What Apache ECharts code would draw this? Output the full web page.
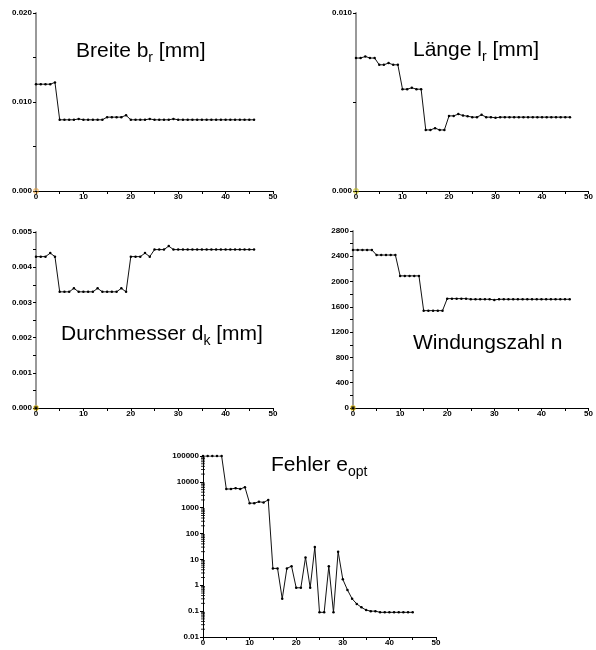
<!DOCTYPE html>
<html>
<head>
<meta charset="utf-8">
<script src="https://cdn.jsdelivr.net/npm/echarts@6/dist/echarts.min.js"></script>
<style>html,body{margin:0;padding:0;background:#fff}#c{width:596px;height:650px}</style>
</head>
<body>
<div id="c"></div>
<script>
// ---- data (iteration index = array index) ----
const breite = [0.0120,0.0120,0.0120,0.0120,0.0122, 0.0080,0.0080,0.0080,0.0080,0.0081,
  0.0080,0.0080,0.0080,0.0080,0.0080, 0.0083,0.0083,0.0083,0.0083,0.0085,
  0.0080,0.0080,0.0080,0.0080,0.0081, 0.0080,0.0080,0.0080,0.0080,0.0081,
  0.0080,0.0080,0.0080,0.0080,0.0080,0.0080,0.0080,0.0080,0.0080,0.0080,
  0.0080,0.0080,0.0080,0.0080,0.0080,0.0080,0.0080];
const laenge = [0.00747,0.00747,0.00756,0.00747,0.00747, 0.00709,0.00709,0.00719,0.00709,0.00709,
  0.00572,0.00572,0.00580,0.00572,0.00572, 0.00343,0.00343,0.00353,0.00343,0.00343,
  0.00422,0.00422,0.00432,0.00424,0.00420, 0.00415,0.00415,0.00428,0.00415,0.00415,
  0.00411, 0.00415,0.00415,0.00415,0.00415,0.00415,0.00415,0.00415,0.00415,
  0.00415,0.00415,0.00415,0.00415,0.00415,0.00415,0.00415,0.00415];
const durchmesser = [0.0043,0.0043,0.0043,0.0044,0.0043, 0.0033,0.0033,0.0033,0.0034,0.0033,
  0.0033,0.0033,0.0033,0.0034,0.0033, 0.0033,0.0033,0.0033,0.0034,0.0033,
  0.0043,0.0043,0.0043,0.0044,0.0043, 0.0045,0.0045,0.0045,0.0046,0.0045,
  0.0045,0.0045,0.0045,0.0045,0.0045,0.0045,0.0045,0.0045,0.0045,0.0045,
  0.0045,0.0045,0.0045,0.0045,0.0045,0.0045,0.0045];
const windungen = [2500,2500,2500,2500,2500, 2420,2420,2420,2420,2420,
  2090,2090,2090,2090,2090, 1540,1540,1540,1540,1540,
  1730,1730,1730,1730,1730, 1720,1720,1720,1720,1720,
  1710, 1720,1720,1720,1720,1720,1720,1720,1720,
  1720,1720,1720,1720,1720,1720,1720,1720];
const fehler = [100000,100000,100000,100000,100000, 5300,5300,5700,5300,6200,
  1500,1500,1700,1600,2000, 4.5,4.5,0.3,4.5,5.5,
  0.8,0.8,12,0.8,30, 0.09,0.09,5.5,0.09,20,
  1.7,0.66,0.3,0.19,0.14, 0.11,0.1,0.1,0.09,0.09,
  0.09,0.09,0.09,0.09,0.09,0.09];
const logDecades = [-2,-1,0,1,2,3,4,5];
const originMark = [0,0];

const FONT = "'Liberation Sans', Arial, sans-serif";
const chart = echarts.init(document.getElementById('c'), null, {renderer:'canvas'});

const grids = [
  {left:36, top:13, width:237, height:178},
  {left:356, top:13, width:238, height:178},
  {left:36, top:232, width:237, height:176},
  {left:353, top:231, width:241, height:177},
  {left:203, top:456, width:233, height:181}
];

function xAx(i){
  return {type:'value', gridIndex:i, min:0, max:50, interval:5,
    axisLine:{lineStyle:{color:'#000', width:1}},
    axisTick:{length:3, lineStyle:{color:'#000'}},
    axisLabel:{margin:2, fontSize:8, fontWeight:'bold', fontFamily:FONT, color:'#000',
      formatter:v => (v % 10 === 0 ? String(v) : '')},
    splitLine:{show:false}};
}
function yAx(i, max, step, dec, grey){
  return {type:'value', gridIndex:i, min:0, max:max, interval:step,
    axisLine:{show:true, lineStyle:{color: grey ? '#999' : '#000', width: grey ? 2 : 1}},
    axisTick:{show:true, length:3, lineStyle:{color:'#000'}},
    axisLabel:{margin:4, fontSize:8, fontWeight:'bold', fontFamily:FONT, color:'#000',
      formatter:v => (Math.round(v/step) % 2 === 0 ? v.toFixed(dec) : '')},
    splitLine:{show:false}};
}

const xAxes = [0,1,2,3,4].map(xAx);
const yAxes = [
  yAx(0, 0.020, 0.005, 3, true),
  yAx(1, 0.010, 0.005, 3, true),
  yAx(2, 0.005, 0.0005, 3, true),
  yAx(3, 2800, 200, 0, true),
  {type:'log', gridIndex:4, min:0.01, max:100000, logBase:10,
    axisLine:{show:true, lineStyle:{color:'#000', width:1}},
    axisTick:{show:true, length:3, lineStyle:{color:'#000'}},
    axisLabel:{margin:4, fontSize:8, fontWeight:'bold', fontFamily:FONT, color:'#000',
      formatter:v => { const e = Math.round(Math.log10(v)); return e >= 0 ? String(Math.pow(10,e)) : Math.pow(10,e).toFixed(-e); }},
    splitLine:{show:false}, minorTick:{show:false}}
];

function lineSeries(i, arr){
  return {type:'line', xAxisIndex:i, yAxisIndex:i, data:arr.map((v,k)=>[k,v]),
    symbol:'circle', symbolSize:2.5, showSymbol:true,
    itemStyle:{color:'#000'}, lineStyle:{color:'#111', width:1}, animation:false, z:3};
}

// log minor ticks at 2..9 × 10^d
const minorTicks = [];
logDecades.slice(0,-1).forEach(d => { for (let k=2;k<=9;k++) minorTicks.push([0, k*Math.pow(10,d)]); });

const originColors = [['none','#f0a030'],['none','#c8c000'],['#000','#e8c000'],['#000','#e8c000']];

const series = [
  lineSeries(0, breite), lineSeries(1, laenge), lineSeries(2, durchmesser),
  lineSeries(3, windungen), lineSeries(4, fehler),
  {type:'scatter', xAxisIndex:4, yAxisIndex:4, data:minorTicks, symbol:'rect', symbolSize:[4,1],
    itemStyle:{color:'#000'}, silent:true, animation:false, z:2}
];
originColors.forEach((c,i) => series.push({type:'scatter', xAxisIndex:i, yAxisIndex:i, data:[originMark],
  symbol:'rect', symbolSize:4, itemStyle:{color:c[0], borderColor:c[1], borderWidth:1}, silent:true, animation:false, z:4}));

const rich = {
  a:{fontSize:21, fontFamily:FONT, color:'#000'},
  s:{fontSize:14, fontFamily:FONT, color:'#000', padding:[13,0,0,0]}
};
function ttl(text, left, top){ return {text:text, left:left, top:top, padding:0, textStyle:{rich:rich, fontSize:21, fontWeight:'normal'}}; }

chart.setOption({
  animation:false,
  backgroundColor:'#fff',
  title:[
    ttl('{a|Breite b}{s|r}{a| [mm]}', 76, 38),
    ttl('{a|Länge l}{s|r}{a| [mm]}', 413, 37),
    ttl('{a|Durchmesser d}{s|k}{a| [mm]}', 61, 321),
    ttl('{a|Windungszahl n}', 413, 333),
    ttl('{a|Fehler e}{s|opt}', 271, 452)
  ],
  grid:grids,
  xAxis:xAxes,
  yAxis:yAxes,
  series:series
});
</script>
</body>
</html>
